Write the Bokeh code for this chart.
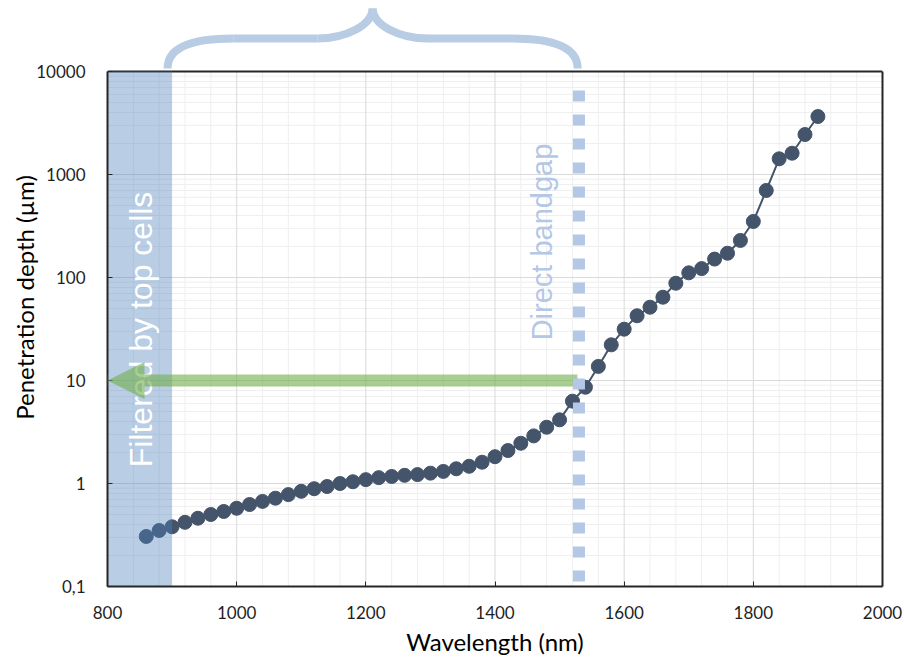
import numpy as np
from bokeh.plotting import figure
from bokeh.models import Range1d, FixedTicker, LogAxis, Arrow, NormalHead
from bokeh.core.properties import value
from bokeh.embed import file_html
from bokeh.resources import INLINE

# ---------------- data ----------------
wavelength = [860, 880, 900, 920, 940, 960, 980, 1000, 1020, 1040, 1060, 1080,
              1100, 1120, 1140, 1160, 1180, 1200, 1220, 1240, 1260, 1280, 1300,
              1320, 1340, 1360, 1380, 1400, 1420, 1440, 1460, 1480, 1500, 1520,
              1540, 1560, 1580, 1600, 1620, 1640, 1660, 1680, 1700, 1720, 1740,
              1760, 1780, 1800, 1820, 1840, 1860, 1880, 1900]
depth = [0.306, 0.35, 0.38, 0.42, 0.46, 0.50, 0.535, 0.575, 0.625, 0.67, 0.72,
         0.78, 0.84, 0.89, 0.935, 1.0, 1.04, 1.09, 1.14, 1.17, 1.2, 1.22, 1.26,
         1.31, 1.39, 1.47, 1.61, 1.82, 2.09, 2.46, 2.9, 3.52, 4.15, 6.3, 8.6,
         13.7, 22.2, 31.5, 42.5, 51.5, 64.4, 88, 111, 122, 151, 172, 229, 350,
         700, 1420, 1610, 2445, 3655]

x_ticks = [800, 1000, 1200, 1400, 1600, 1800, 2000]
x_tick_labels = ["800", "1000", "1200", "1400", "1600", "1800", "2000"]
y_ticks = [0.1, 1, 10, 100, 1000, 10000]
y_tick_labels = ["0,1", "1", "10", "100", "1000", "10000"]

filter_edge = 900          # filtered by top cells: 800..900 nm
bandgap = 1530             # direct bandgap wavelength
arrow_depth = 10           # arrow at 10 um
brace_left, brace_right = 893, 1528

X_MIN, X_MAX = 800, 2000
Y_MIN, Y_MAX = 0.1, 10000
Y_TOP = 40900              # extra room above frame for the brace

AXIS_COLOR = "#262626"
TEXT_COLOR = "#1f1f1f"
POINT_COLOR = "#44546a"

p = figure(width=904, height=658, title=None,
           x_range=Range1d(X_MIN, X_MAX), y_range=Range1d(Y_MIN, Y_TOP),
           y_axis_type="log", output_backend="svg", toolbar_location=None,
           min_border_left=107, min_border_right=22, min_border_top=8,
           min_border_bottom=72)
p.outline_line_color = None
p.xgrid.visible = False
p.ygrid.visible = False
p.background_fill_color = "white"
p.border_fill_color = "white"

# ---------------- grid (manual, limited to data frame) ----------------
y_major_grid = [v for v in y_ticks if Y_MIN < v < Y_MAX]
y_minor_grid = [k * 10.0 ** n for n in range(-1, 4) for k in range(2, 10)]
x_major_grid = [v for v in x_ticks if X_MIN < v < X_MAX]
x_minor_grid = [v for v in range(X_MIN + 40, X_MAX, 40) if v % 200]

p.segment(x0=[X_MIN] * len(y_minor_grid), y0=y_minor_grid,
          x1=[X_MAX] * len(y_minor_grid), y1=y_minor_grid,
          line_color="#efefef", line_width=1)
p.segment(x0=x_minor_grid, y0=[Y_MIN] * len(x_minor_grid),
          x1=x_minor_grid, y1=[Y_MAX] * len(x_minor_grid),
          line_color="#efefef", line_width=1)
p.segment(x0=[X_MIN] * len(y_major_grid), y0=y_major_grid,
          x1=[X_MAX] * len(y_major_grid), y1=y_major_grid,
          line_color="#d9d9d9", line_width=1)
p.segment(x0=x_major_grid, y0=[Y_MIN] * len(x_major_grid),
          x1=x_major_grid, y1=[Y_MAX] * len(x_major_grid),
          line_color="#d9d9d9", line_width=1)

# top border of the data frame
p.segment(x0=[X_MIN], y0=[Y_MAX], x1=[X_MAX], y1=[Y_MAX],
          line_color=AXIS_COLOR, line_width=2)

# ---------------- data ----------------
p.line(wavelength, depth, line_color=POINT_COLOR, line_width=2)
p.scatter(wavelength, depth, size=14, fill_color=POINT_COLOR,
          line_color=POINT_COLOR)

# filtered region
p.quad(left=[X_MIN], right=[filter_edge], bottom=[Y_MIN], top=[Y_MAX],
       fill_color="#4f81bd", fill_alpha=0.4, line_color=None)
p.text(x=[852], y=[31.3], text=["Filtered by top cells"], angle=np.pi / 2,
       text_font=value("Liberation Sans"), text_font_size="32px",
       text_color="white", text_align="center", text_baseline="alphabetic")

# green arrow
p.add_layout(Arrow(end=NormalHead(size=37, fill_color="#70ad47", fill_alpha=0.6,
                                  line_color=None, line_alpha=0),
                   x_start=bandgap - 2.4, y_start=arrow_depth,
                   x_end=X_MIN, y_end=arrow_depth,
                   line_color="#70ad47", line_alpha=0.6, line_width=12))

# direct bandgap dashed line + text
p.segment(x0=[bandgap], y0=[Y_MIN], x1=[bandgap], y1=[7000],
          line_color="#b4c7e7", line_width=12, line_dash="11 13",
          line_dash_offset=19, level="overlay")
p.text(x=[1473], y=[221], text=["Direct bandgap"], angle=np.pi / 2,
       text_font=value("Liberation Sans"), text_font_size="29px",
       text_color="#b4c7e7", text_align="center", text_baseline="alphabetic",
       level="overlay")

# ---------------- brace above the plot ----------------
mid = (brace_left + brace_right) / 2
half = (brace_right - brace_left) / 2
y_end, y_c1, y_bar, y_c4, y_tip = 10700, 16700, 20900, 28000, 41500
bz_x0, bz_y0, bz_x1, bz_y1, bz_cx0, bz_cy0, bz_cx1, bz_cy1 = [], [], [], [], [], [], [], []
for side in (-1, 1):
    edge = mid + side * half
    # outer curl
    bz_x0.append(edge); bz_y0.append(y_end)
    bz_x1.append(edge - side * 0.32 * half); bz_y1.append(y_bar)
    bz_cx0.append(edge); bz_cy0.append(y_c1)
    bz_cx1.append(edge - side * 0.112 * half); bz_cy1.append(y_bar)
    # inner curl to tip
    bz_x0.append(edge - side * 0.73 * half); bz_y0.append(y_bar)
    bz_x1.append(mid); bz_y1.append(y_tip)
    bz_cx0.append(edge - side * 0.868 * half); bz_cy0.append(y_bar)
    bz_cx1.append(mid); bz_cy1.append(y_c4)
BRACE = "#b8cce4"
p.bezier(x0=bz_x0, y0=bz_y0, x1=bz_x1, y1=bz_y1, cx0=bz_cx0, cy0=bz_cy0,
         cx1=bz_cx1, cy1=bz_cy1, line_color=BRACE, line_width=8)
p.segment(x0=[mid - 0.68 * half, mid + 0.27 * half],
          y0=[y_bar, y_bar],
          x1=[mid - 0.27 * half, mid + 0.68 * half],
          y1=[y_bar, y_bar], line_color=BRACE, line_width=8)

# ---------------- axes ----------------
xa = p.xaxis[0]
xa.ticker = FixedTicker(ticks=x_ticks)
xa.major_label_overrides = dict(zip(x_ticks, x_tick_labels))
xa.axis_label = "Wavelength (nm)"
ya = p.yaxis[0]
ya.ticker = FixedTicker(ticks=y_ticks)
ya.major_label_overrides = dict(zip(y_ticks, y_tick_labels))
ya.axis_label = "Penetration depth (µm)"
ya.bounds = (Y_MIN, Y_MAX)

for ax in (xa, ya):
    ax.axis_line_color = AXIS_COLOR
    ax.axis_line_width = 2
    ax.major_tick_line_color = AXIS_COLOR
    ax.major_tick_line_width = 1
    ax.major_tick_in = 5
    ax.major_tick_out = 0
    ax.minor_tick_line_color = None
    ax.major_label_text_font = "Lato"
    ax.major_label_text_font_size = "17px"
    ax.major_label_text_color = TEXT_COLOR
    ax.axis_label_text_font = "Lato"
    ax.axis_label_text_font_size = "24px"
    ax.axis_label_text_font_style = "normal"
    ax.axis_label_text_color = "black"
xa.major_label_standoff = 19
xa.axis_label_standoff = 5
ya.major_label_standoff = 22
ya.axis_label_standoff = -6

# right border
ra = LogAxis(ticker=FixedTicker(ticks=[]), bounds=(Y_MIN, Y_MAX),
             axis_line_color=AXIS_COLOR, axis_line_width=2,
             major_tick_line_color=None, minor_tick_line_color=None,
             major_label_standoff=0)
p.add_layout(ra, "right")

open("out.html", "w").write(file_html(p, INLINE))
